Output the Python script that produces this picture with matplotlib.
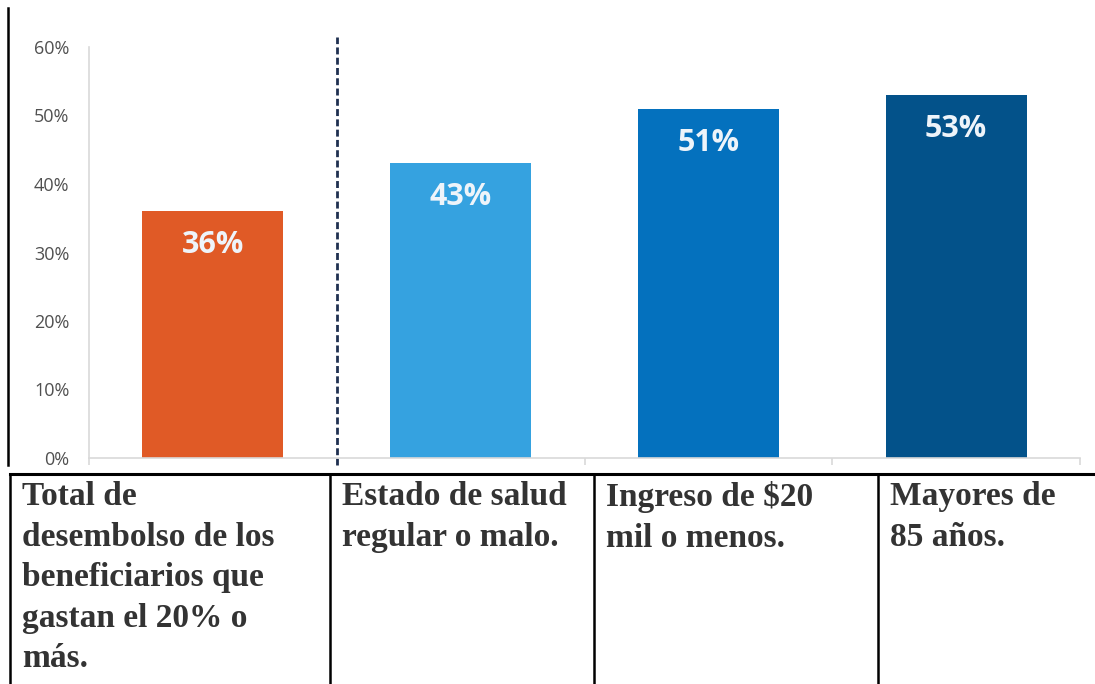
import matplotlib.pyplot as plt
from matplotlib.lines import Line2D
from matplotlib.ticker import FuncFormatter

# datos
categorias = ['Total de\ndesembolso de los\nbeneficiarios que\ngastan el 20% o\nmás.',
              'Estado de salud\nregular o malo.',
              'Ingreso de $20\nmil o menos.',
              'Mayores de\n85 años.']
valores = [36, 43, 51, 53]
colores = ['#E05A26', '#35A2E0', '#0471BE', '#03528A']
yticks = [0, 10, 20, 30, 40, 50, 60]

W, H = 1095, 684
fig = plt.figure(figsize=(W / 100, H / 100), dpi=100)

# eje del grafico (en pixeles del original)
x0, x1, ytop, ybot = 89, 1080, 47, 458
ax = fig.add_axes([x0 / W, (H - ybot) / H, (x1 - x0) / W, (ybot - ytop) / H])

pos = range(len(valores))
ax.bar(pos, valores, width=0.57, color=colores)
ax.set_xlim(-0.5, 3.5)
ax.set_ylim(0, 60)

for p, v in zip(pos, valores):
    ax.annotate(f'{v}%', (p, v), xytext=(0, -34), textcoords='offset pixels',
                ha='center', va='center', color='#EEF4FA', fontsize=22,
                fontweight='bold', family='Open Sans')

# linea punteada separadora
ax.axvline(0.5, ymin=-0.017, ymax=1.024, color='#1F3050', lw=2,
           dashes=(2.5, 1.2), clip_on=False)

for s in ['top', 'right']:
    ax.spines[s].set_visible(False)
for s in ['left', 'bottom']:
    ax.spines[s].set_color('#D9D9D9')
    ax.spines[s].set_linewidth(1.2)

ax.set_yticks(yticks)
ax.yaxis.set_major_formatter(FuncFormatter(lambda v, _: f'{v:.0f}%'))
ax.tick_params(axis='y', length=0, pad=14, labelsize=13, labelcolor='#505050')
for lab in ax.get_yticklabels():
    lab.set_family('Open Sans')
ax.set_xticks([-0.5, 0.5, 1.5, 2.5, 3.5])
ax.set_xticklabels([])
ax.tick_params(axis='x', length=5, width=1.2, color='#D9D9D9', direction='out')

# borde negro izquierdo
def px_line(xs, ys, lw):
    fig.add_artist(Line2D([x / W for x in xs], [1 - y / H for y in ys],
                          color='black', lw=lw, transform=fig.transFigure))

px_line([8, 8], [8, 465], 1.8)

# tabla de etiquetas
px_line([10, W], [474, 474], 2.2)
bordes = [10, 330, 594, 878]
for b in bordes:
    px_line([b, b], [474, H], 1.8)

for b, txt in zip(bordes, categorias):
    fig.text((b + 12) / W, 1 - 481 / H, txt, ha='left', va='top',
             family='Liberation Serif', fontweight='bold', fontsize=24,
             color='#333333', linespacing=1.4)

fig.savefig('out.png', dpi=100)
